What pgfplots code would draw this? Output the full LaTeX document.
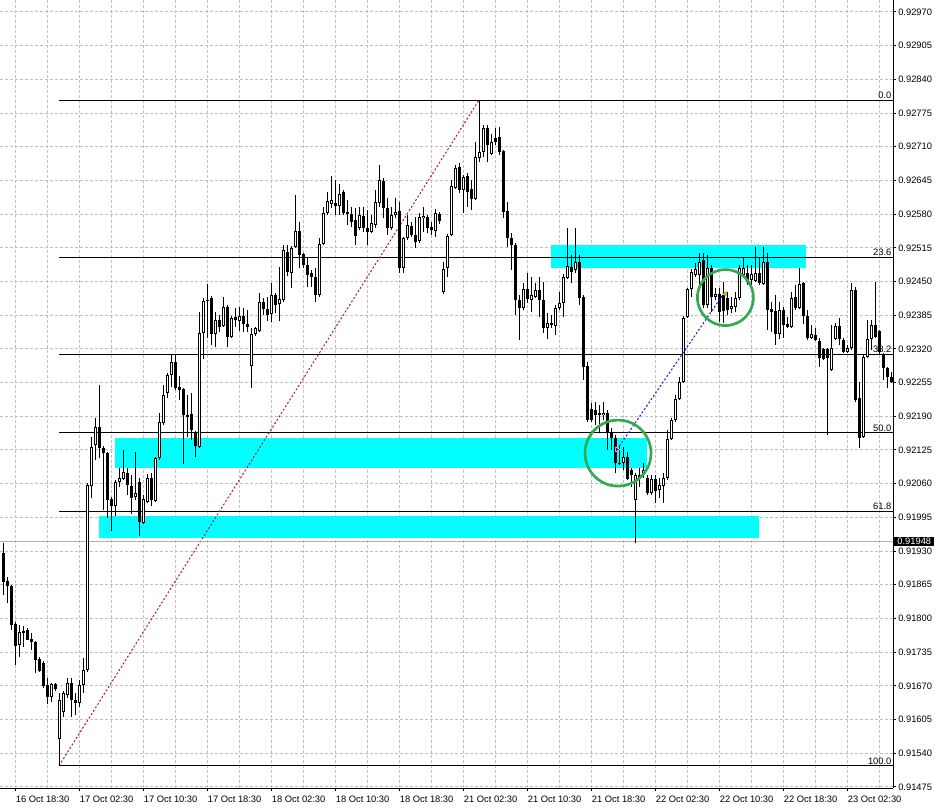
\documentclass[border=0pt]{standalone}
\usepackage{fontspec}
\setmainfont{Liberation Sans}
\usepackage{pgfplots}
\usepackage{pgfplotstable}
\pgfplotsset{compat=1.18}

\definecolor{gridgray}{RGB}{192,192,192}
\definecolor{zone}{RGB}{0,255,255}
\definecolor{fibred}{RGB}{175,25,35}
\definecolor{circgreen}{RGB}{52,168,83}
\definecolor{pricegray}{RGB}{176,176,176}
\definecolor{markblue}{RGB}{20,20,200}
\definecolor{marktan}{RGB}{210,160,60}
\newcommand{\smallfont}{\fontsize{7}{8}\selectfont}

% M30 candles, x = bar index, prices o h l c
\pgfplotstableread{
x o h l c
-3 0.91927 0.91946 0.91846 0.91871
-2 0.91873 0.91880 0.91830 0.91863
-1 0.91863 0.91865 0.91778 0.91788
0 0.91790 0.91794 0.91711 0.91747
1 0.91749 0.91788 0.91726 0.91774
2 0.91776 0.91786 0.91745 0.91772
3 0.91778 0.91782 0.91759 0.91759
4 0.91761 0.91772 0.91740 0.91755
5 0.91755 0.91757 0.91695 0.91720
6 0.91722 0.91726 0.91697 0.91699
7 0.91714 0.91718 0.91666 0.91670
8 0.91672 0.91686 0.91635 0.91649
9 0.91649 0.91676 0.91639 0.91674
10 0.91674 0.91676 0.91660 0.91664
11 0.91568 0.91657 0.91516 0.91643
12 0.91620 0.91660 0.91610 0.91657
13 0.91653 0.91686 0.91647 0.91676
14 0.91676 0.91686 0.91610 0.91643
15 0.91643 0.91657 0.91614 0.91637
16 0.91637 0.91682 0.91630 0.91672
17 0.91672 0.91724 0.91657 0.91701
18 0.91701 0.92061 0.91697 0.92057
19 0.92055 0.92150 0.92032 0.92130
20 0.92134 0.92186 0.92105 0.92169
21 0.92169 0.92250 0.92109 0.92128
22 0.92128 0.92132 0.92010 0.92119
23 0.92119 0.92121 0.91994 0.92029
24 0.92030 0.92034 0.91969 0.92017
25 0.92016 0.92067 0.91998 0.92063
26 0.92063 0.92090 0.92053 0.92071
27 0.92069 0.92125 0.92067 0.92082
28 0.92080 0.92090 0.92038 0.92057
29 0.92055 0.92076 0.92002 0.92032
30 0.92034 0.92121 0.92029 0.92042
31 0.92063 0.92071 0.91960 0.91987
32 0.91985 0.92038 0.91983 0.92030
33 0.92025 0.92078 0.92023 0.92071
34 0.92071 0.92080 0.92016 0.92029
35 0.92027 0.92111 0.92025 0.92109
36 0.92109 0.92196 0.92105 0.92179
37 0.92177 0.92250 0.92173 0.92231
38 0.92235 0.92273 0.92225 0.92269
39 0.92269 0.92308 0.92246 0.92294
40 0.92294 0.92308 0.92240 0.92244
41 0.92246 0.92267 0.92221 0.92240
42 0.92242 0.92244 0.92098 0.92192
43 0.92192 0.92231 0.92150 0.92188
44 0.92194 0.92235 0.92144 0.92163
45 0.92159 0.92161 0.92111 0.92132
46 0.92130 0.92391 0.92128 0.92350
47 0.92350 0.92418 0.92300 0.92412
48 0.92412 0.92445 0.92341 0.92414
49 0.92418 0.92422 0.92327 0.92348
50 0.92348 0.92391 0.92323 0.92375
51 0.92375 0.92385 0.92352 0.92362
52 0.92364 0.92420 0.92362 0.92401
53 0.92401 0.92404 0.92323 0.92343
54 0.92343 0.92383 0.92341 0.92379
55 0.92381 0.92399 0.92362 0.92375
56 0.92373 0.92401 0.92354 0.92383
57 0.92383 0.92399 0.92352 0.92368
58 0.92368 0.92395 0.92352 0.92362
59 0.92287 0.92360 0.92244 0.92348
60 0.92348 0.92362 0.92345 0.92360
61 0.92354 0.92428 0.92352 0.92410
62 0.92410 0.92418 0.92385 0.92397
63 0.92397 0.92420 0.92373 0.92385
64 0.92387 0.92447 0.92371 0.92424
65 0.92424 0.92428 0.92389 0.92404
66 0.92406 0.92478 0.92373 0.92416
67 0.92414 0.92520 0.92410 0.92511
68 0.92507 0.92520 0.92460 0.92469
69 0.92467 0.92518 0.92437 0.92514
70 0.92516 0.92617 0.92514 0.92547
71 0.92547 0.92565 0.92476 0.92501
72 0.92503 0.92505 0.92476 0.92482
73 0.92482 0.92497 0.92439 0.92462
74 0.92466 0.92472 0.92439 0.92458
75 0.92458 0.92476 0.92410 0.92424
76 0.92424 0.92534 0.92420 0.92522
77 0.92522 0.92594 0.92520 0.92582
78 0.92582 0.92623 0.92578 0.92605
79 0.92599 0.92653 0.92592 0.92607
80 0.92601 0.92646 0.92578 0.92595
81 0.92595 0.92638 0.92578 0.92619
82 0.92623 0.92627 0.92578 0.92582
83 0.92584 0.92607 0.92559 0.92580
84 0.92580 0.92594 0.92555 0.92565
85 0.92569 0.92592 0.92520 0.92538
86 0.92553 0.92594 0.92549 0.92578
87 0.92576 0.92594 0.92545 0.92553
88 0.92553 0.92588 0.92520 0.92545
89 0.92545 0.92578 0.92543 0.92563
90 0.92559 0.92627 0.92553 0.92603
91 0.92601 0.92675 0.92594 0.92646
92 0.92644 0.92650 0.92572 0.92592
93 0.92592 0.92611 0.92540 0.92553
94 0.92553 0.92594 0.92549 0.92578
95 0.92578 0.92611 0.92572 0.92584
96 0.92586 0.92603 0.92467 0.92476
97 0.92476 0.92536 0.92466 0.92534
98 0.92534 0.92578 0.92530 0.92559
99 0.92557 0.92565 0.92536 0.92540
100 0.92540 0.92574 0.92514 0.92526
101 0.92528 0.92582 0.92524 0.92574
102 0.92572 0.92594 0.92545 0.92576
103 0.92574 0.92578 0.92543 0.92553
104 0.92555 0.92565 0.92540 0.92549
105 0.92547 0.92590 0.92536 0.92582
106 0.92580 0.92584 0.92561 0.92567
107 0.92429 0.92487 0.92425 0.92474
108 0.92476 0.92542 0.92458 0.92538
109 0.92540 0.92646 0.92538 0.92634
110 0.92630 0.92675 0.92628 0.92669
111 0.92671 0.92679 0.92621 0.92627
112 0.92627 0.92655 0.92582 0.92651
113 0.92653 0.92659 0.92594 0.92623
114 0.92628 0.92646 0.92588 0.92609
115 0.92609 0.92719 0.92607 0.92690
116 0.92688 0.92800 0.92680 0.92700
117 0.92700 0.92752 0.92690 0.92746
118 0.92746 0.92752 0.92680 0.92713
119 0.92696 0.92734 0.92694 0.92719
120 0.92727 0.92746 0.92713 0.92719
121 0.92729 0.92748 0.92694 0.92700
122 0.92702 0.92704 0.92572 0.92584
123 0.92586 0.92603 0.92516 0.92534
124 0.92534 0.92543 0.92472 0.92520
125 0.92520 0.92524 0.92385 0.92414
126 0.92414 0.92424 0.92337 0.92399
127 0.92399 0.92447 0.92395 0.92435
128 0.92435 0.92466 0.92408 0.92416
129 0.92414 0.92458 0.92391 0.92424
130 0.92420 0.92447 0.92418 0.92433
131 0.92433 0.92458 0.92381 0.92414
132 0.92414 0.92449 0.92350 0.92360
133 0.92360 0.92389 0.92339 0.92370
134 0.92370 0.92385 0.92360 0.92366
135 0.92364 0.92404 0.92346 0.92399
136 0.92399 0.92430 0.92395 0.92408
137 0.92408 0.92464 0.92381 0.92458
138 0.92456 0.92553 0.92454 0.92480
139 0.92478 0.92501 0.92447 0.92468
140 0.92472 0.92553 0.92466 0.92487
141 0.92487 0.92501 0.92404 0.92418
142 0.92420 0.92424 0.92260 0.92285
143 0.92287 0.92294 0.92179 0.92182
144 0.92204 0.92215 0.92179 0.92182
145 0.92202 0.92217 0.92173 0.92192
146 0.92196 0.92211 0.92157 0.92192
147 0.92192 0.92217 0.92182 0.92196
148 0.92196 0.92202 0.92125 0.92157
149 0.92157 0.92167 0.92125 0.92148
150 0.92148 0.92153 0.92080 0.92099
151 0.92099 0.92134 0.92096 0.92098
152 0.92099 0.92130 0.92086 0.92111
153 0.92111 0.92121 0.92067 0.92069
154 0.92086 0.92090 0.92053 0.92076
155 0.92029 0.92080 0.91946 0.92076
156 0.92076 0.92090 0.92053 0.92071
157 0.92076 0.92099 0.92071 0.92086
158 0.92071 0.92076 0.92038 0.92042
159 0.92042 0.92076 0.92038 0.92069
160 0.92069 0.92076 0.92023 0.92045
161 0.92047 0.92071 0.92032 0.92057
162 0.92055 0.92080 0.92023 0.92071
163 0.92071 0.92163 0.92067 0.92146
164 0.92146 0.92186 0.92144 0.92182
165 0.92182 0.92231 0.92179 0.92223
166 0.92223 0.92265 0.92221 0.92256
167 0.92256 0.92383 0.92254 0.92379
168 0.92381 0.92437 0.92379 0.92435
169 0.92435 0.92474 0.92420 0.92469
170 0.92462 0.92485 0.92458 0.92474
171 0.92462 0.92505 0.92443 0.92487
172 0.92491 0.92505 0.92399 0.92404
173 0.92404 0.92501 0.92399 0.92476
174 0.92476 0.92482 0.92391 0.92420
175 0.92420 0.92437 0.92414 0.92426
176 0.92426 0.92437 0.92371 0.92391
177 0.92424 0.92449 0.92370 0.92393
178 0.92418 0.92430 0.92385 0.92395
179 0.92397 0.92420 0.92389 0.92403
180 0.92401 0.92430 0.92391 0.92418
181 0.92418 0.92482 0.92414 0.92476
182 0.92462 0.92495 0.92458 0.92476
183 0.92466 0.92482 0.92443 0.92449
184 0.92453 0.92482 0.92443 0.92464
185 0.92451 0.92516 0.92449 0.92466
186 0.92466 0.92497 0.92443 0.92447
187 0.92445 0.92516 0.92443 0.92487
188 0.92487 0.92505 0.92356 0.92395
189 0.92397 0.92410 0.92352 0.92391
190 0.92393 0.92424 0.92327 0.92348
191 0.92348 0.92410 0.92339 0.92395
192 0.92395 0.92401 0.92341 0.92366
193 0.92368 0.92381 0.92360 0.92362
194 0.92362 0.92430 0.92360 0.92418
195 0.92420 0.92443 0.92395 0.92399
196 0.92399 0.92476 0.92397 0.92445
197 0.92447 0.92449 0.92368 0.92383
198 0.92383 0.92395 0.92337 0.92341
199 0.92341 0.92366 0.92339 0.92348
200 0.92346 0.92360 0.92335 0.92337
201 0.92335 0.92341 0.92285 0.92302
202 0.92319 0.92321 0.92298 0.92300
203 0.92319 0.92321 0.92153 0.92302
204 0.92279 0.92366 0.92277 0.92321
205 0.92339 0.92370 0.92337 0.92364
206 0.92364 0.92379 0.92327 0.92339
207 0.92337 0.92341 0.92312 0.92314
208 0.92314 0.92327 0.92312 0.92321
209 0.92321 0.92447 0.92318 0.92433
210 0.92433 0.92439 0.92217 0.92221
211 0.92225 0.92256 0.92128 0.92148
212 0.92150 0.92308 0.92148 0.92304
213 0.92304 0.92375 0.92302 0.92339
214 0.92339 0.92375 0.92318 0.92366
215 0.92366 0.92449 0.92341 0.92343
216 0.92354 0.92356 0.92308 0.92314
217 0.92310 0.92312 0.92260 0.92283
218 0.92283 0.92285 0.92244 0.92265
219 0.92265 0.92275 0.92254 0.92257
}\candles

\begin{document}
\begin{tikzpicture}
\path[use as bounding box] (0,0) rectangle (703.5pt,607.5pt);
\begin{axis}[
    at={(0pt,16.5pt)}, anchor=south west,
    scale only axis,
    width=669.75pt,
    height=591pt,
    xmin=-3.75, xmax=219.5,
    ymin=0.91473, ymax=0.92993,
    axis x line*=bottom,
    axis y line*=right,
    axis line style={-, black, line width=0.75pt},
    xtick={0,16,...,208},
    xticklabels={16 Oct 18:30,17 Oct 02:30,17 Oct 10:30,17 Oct 18:30,18 Oct 02:30,18 Oct 10:30,18 Oct 18:30,21 Oct 02:30,21 Oct 10:30,21 Oct 18:30,22 Oct 02:30,22 Oct 10:30,22 Oct 18:30,23 Oct 02:30},
    minor xtick={8,24,...,216},
    ytick={0.91475,0.91540,0.91605,0.91670,0.91735,0.91800,0.91865,0.91930,0.91995,0.92060,0.92125,0.92190,0.92255,0.92320,0.92385,0.92450,0.92515,0.92580,0.92645,0.92710,0.92775,0.92840,0.92905,0.92970},
    yticklabels={0.91475,0.91540,0.91605,0.91670,0.91735,0.91800,0.91865,0.91930,0.91995,0.92060,0.92125,0.92190,0.92255,0.92320,0.92385,0.92450,0.92515,0.92580,0.92645,0.92710,0.92775,0.92840,0.92905,0.92970},
    tick align=outside,
    major tick length=2.25pt,
    minor tick length=0pt,
    tick style={black, line width=0.75pt},
    grid=both,
    grid style={gridgray, line width=0.75pt, dash pattern=on 2.25pt off 1.5pt},
    xticklabel style={font=\smallfont, anchor=west, inner xsep=0.5pt, yshift=-6pt},
    yticklabel style={font=\smallfont, inner xsep=1.5pt},
    clip mode=individual,
]

% zones
\addplot[fill=zone, draw=none] coordinates {(134,0.92520) (197.75,0.92520) (197.75,0.92476) (134,0.92476)} -- cycle;
\addplot[fill=zone, draw=none] coordinates {(25,0.92148) (158,0.92148) (158,0.92090) (25,0.92090)} -- cycle;
\addplot[fill=zone, draw=none] coordinates {(21,0.91998) (186,0.91998) (186,0.91956) (21,0.91956)} -- cycle;

% fibonacci levels
\addplot[black, line width=0.75pt] coordinates {(11,0.92800) (219.5,0.92800)};
\addplot[black, line width=0.75pt] coordinates {(11,0.92497) (219.5,0.92497)};
\addplot[black, line width=0.75pt] coordinates {(11,0.92309) (219.5,0.92309)};
\addplot[black, line width=0.75pt] coordinates {(11,0.92158) (219.5,0.92158)};
\addplot[black, line width=0.75pt] coordinates {(11,0.92007) (219.5,0.92007)};
\addplot[black, line width=0.75pt] coordinates {(11,0.91516) (219.5,0.91516)};
\addplot[fibred, line width=0.75pt, dash pattern=on 1.5pt off 1.5pt] coordinates {(11,0.91516) (116,0.92800)};

\node[anchor=south east, inner sep=1pt, font=\smallfont] at (axis cs:219.5,0.92800) {0.0};
\node[anchor=south east, inner sep=1pt, font=\smallfont] at (axis cs:219.5,0.92497) {23.6};
\node[anchor=south east, inner sep=1pt, font=\smallfont] at (axis cs:219.5,0.92309) {38.2};
\node[anchor=south east, inner sep=1pt, font=\smallfont] at (axis cs:219.5,0.92158) {50.0};
\node[anchor=south east, inner sep=1pt, font=\smallfont] at (axis cs:219.5,0.92007) {61.8};
\node[anchor=south east, inner sep=1pt, font=\smallfont] at (axis cs:219.5,0.91516) {100.0};

% current price line
\addplot[pricegray, line width=0.75pt] coordinates {(-3.75,0.91948) (219.5,0.91948)};

% wicks
\addplot[draw=none, mark=none,
    error bars/.cd, y dir=plus, y explicit, error mark=none,
    error bar style={draw=black, solid, line width=0.75pt}]
    table[x=x, y=l, y error plus expr={\thisrow{h}-\thisrow{l}}] {\candles};
% bodies
\addplot[draw=none, mark=none,
    error bars/.cd, y dir=plus, y explicit, error mark=none,
    error bar style={draw=black, solid, line width=2.25pt}]
    table[x=x, y expr={min(\thisrow{o},\thisrow{c})},
          y error plus expr={max(abs(\thisrow{o}-\thisrow{c}),0.0000193)}] {\candles};
% hollow inside of bull candles
\addplot[draw=none, mark=none,
    error bars/.cd, y dir=plus, y explicit, error mark=none,
    error bar style={draw=white, solid, line width=0.75pt}]
    table[x=x, y expr={min(\thisrow{o},\thisrow{c})+0.0000193},
          y error plus expr={(\thisrow{c}>\thisrow{o})*max(\thisrow{c}-\thisrow{o}-0.0000386,0)}] {\candles};

% blue trend line and markers
\addplot[markblue, line width=0.75pt, dash pattern=on 1.5pt off 1.5pt] coordinates {(150.5,0.92126) (176.75,0.92422)};
\addplot[only marks, mark=triangle*, mark size=2.2pt, mark options={rotate=-90, fill=markblue, draw=white}] coordinates {(150.5,0.92126)};
\addplot[only marks, mark=triangle*, mark size=2pt, mark options={rotate=90, fill=marktan, draw=marktan}] coordinates {(177.5,0.92426)};

% circles
\draw[circgreen, line width=2pt] (axis cs:150.75,0.92119) circle[radius=24.75pt];
\draw[circgreen, line width=2pt] (axis cs:177.6,0.92419) circle[radius=21pt];

% price label
\node[fill=black, text=white, anchor=west, inner xsep=2pt, inner ysep=0.8pt, minimum width=30pt, font=\smallfont, xshift=0.75pt] at (axis cs:219.5,0.91948) {0.91948};
\end{axis}
\end{tikzpicture}
\end{document}
